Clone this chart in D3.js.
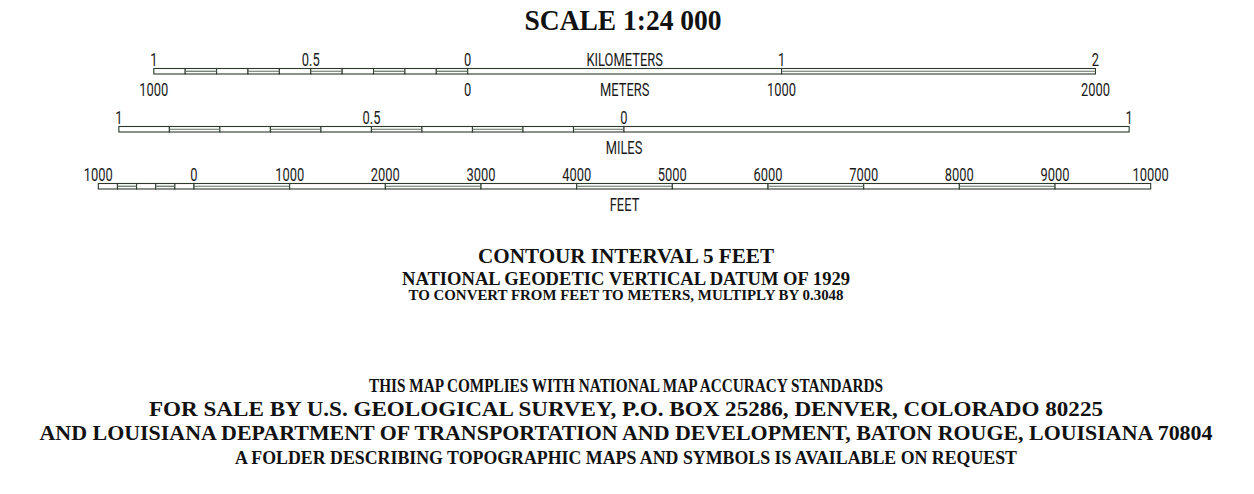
<!DOCTYPE html>
<html><head><meta charset="utf-8">
<script src="https://cdn.jsdelivr.net/npm/d3@7/dist/d3.min.js"></script>
<style>
html,body{margin:0;padding:0;background:#fff;}
svg{display:block;}
.lbl{font-family:Roboto,"Liberation Sans",sans-serif;font-size:19px;fill:#1a1a1a;}
.note{font-family:"Liberation Serif","DejaVu Serif",serif;font-weight:bold;fill:#111;}
</style></head>
<body><svg id="c" width="1254" height="494"></svg>
<script>
// ---- data ----
const title = "SCALE 1:24 000";
// kilometre bar (km)
const kmBreaks = [-1,-0.9,-0.8,-0.7,-0.6,-0.5,-0.4,-0.3,-0.2,-0.1,0,1,2];
const kmStyles = ["w","d","w","d","w","d","w","d","w","d","w","d"];
const kmTopLabels = [[-1,"1"],[-0.5,"0.5"],[0,"0"],[0.5,"KILOMETERS"],[1,"1"],[2,"2"]];
const mBottomLabels = [[-1,"1000"],[0,"0"],[0.5,"METERS"],[1,"1000"],[2,"2000"]];
// mile bar (miles)
const miBreaks = [-1,-0.9,-0.8,-0.7,-0.6,-0.5,-0.4,-0.3,-0.2,-0.1,0,1];
const miStyles = ["w","d","w","d","w","d","w","d","w","d","w"];
const miTopLabels = [[-1,"1"],[-0.5,"0.5"],[0,"0"],[1,"1"]];
const miBottomLabels = [[0,"MILES"]];
// feet bar (feet)
const ftBreaks = [-1000,-800,-600,-400,-200,0,1000,2000,3000,4000,5000,6000,7000,8000,9000,10000];
const ftStyles = ["w","d","w","d","w","d","w","d","w","d","w","d","w","d","w"];
const ftTopLabels = [[-1000,"1000"],[0,"0"],[1000,"1000"],[2000,"2000"],[3000,"3000"],[4000,"4000"],[5000,"5000"],[6000,"6000"],[7000,"7000"],[8000,"8000"],[9000,"9000"],[10000,"10000"]];
const ftBottomLabels = [[4500,"FEET"]];
// notes
const notesTop = ["CONTOUR INTERVAL 5 FEET","NATIONAL GEODETIC VERTICAL DATUM OF 1929","TO CONVERT FROM FEET TO METERS, MULTIPLY BY 0.3048"];
const notesBottom = ["THIS MAP COMPLIES WITH NATIONAL MAP ACCURACY STANDARDS","FOR SALE BY U.S. GEOLOGICAL SURVEY, P.O. BOX 25286, DENVER, COLORADO 80225","AND LOUISIANA DEPARTMENT OF TRANSPORTATION AND DEVELOPMENT, BATON ROUGE, LOUISIANA 70804","A FOLDER DESCRIBING TOPOGRAPHIC MAPS AND SYMBOLS IS AVAILABLE ON REQUEST"];

// ---- layout ----
const svg = d3.select("#c");
const pxPerFt = 0.09567;
const ftPerKm = 3280.84, ftPerMi = 5280;
const xKm = d3.scaleLinear().domain([0,1]).range([467.7, 467.7 + ftPerKm*pxPerFt]);
const xMi = d3.scaleLinear().domain([0,1]).range([624, 624 + ftPerMi*pxPerFt]);
const xFt = d3.scaleLinear().domain([0,1000]).range([194, 194 + 1000*pxPerFt]);

function bar(x, breaks, styles, y, h){
  const g = svg.append("g");
  const segs = d3.range(breaks.length-1).map(i=>({a:breaks[i],b:breaks[i+1],s:styles[i]}));
  g.selectAll("rect").data(segs).join("rect")
    .attr("x", d=>x(d.a)).attr("y", y).attr("width", d=>x(d.b)-x(d.a)).attr("height", h)
    .attr("fill","#fff").attr("stroke","#2c3a2c").attr("stroke-width",1.1);
  g.selectAll("line.mid").data(segs.filter(d=>d.s==="d")).join("line").attr("class","mid")
    .attr("x1", d=>x(d.a)).attr("x2", d=>x(d.b)).attr("y1", y+h/2).attr("y2", y+h/2)
    .attr("stroke","#5f6f5f").attr("stroke-width",1.2);
}
function labels(x, list, yBase){
  svg.append("g").selectAll("text").data(list).join("text").attr("class","lbl")
    .attr("transform", d=>`translate(${x(d[0])},${yBase}) scale(0.68,1)`)
    .attr("text-anchor","middle").text(d=>d[1]);
}

bar(xKm, kmBreaks, kmStyles, 68.5, 5.5);
labels(xKm, kmTopLabels, 65.5);
labels(xKm, mBottomLabels, 95.5);

bar(xMi, miBreaks, miStyles, 126.5, 5.5);
labels(xMi, miTopLabels, 123.5);
labels(xMi, miBottomLabels, 153.5);

bar(xFt, ftBreaks, ftStyles, 183.5, 5.5);
labels(xFt, ftTopLabels, 180.5);
labels(xFt, ftBottomLabels, 210.5);

// title and notes
const cx = 626;
svg.append("text").attr("class","note").attr("x", 623).attr("y", 29.5)
  .attr("text-anchor","middle").attr("font-size",28.5)
  .attr("textLength",197).attr("lengthAdjust","spacingAndGlyphs").text(title);

const topY = [262.5, 285, 300], topSize = [21.5, 18.5, 15], topW = [296, 448, 435];
svg.append("g").selectAll("text").data(notesTop).join("text").attr("class","note")
  .attr("x", cx).attr("y",(d,i)=>topY[i]).attr("text-anchor","middle")
  .attr("font-size",(d,i)=>topSize[i]).attr("textLength",(d,i)=>topW[i])
  .attr("lengthAdjust","spacingAndGlyphs").text(d=>d);

const botY = [391.5, 415.5, 439.5, 463.5], botSize = [19.5, 22, 22, 18.5], botW = [514, 954, 1173, 782];
svg.append("g").selectAll("text").data(notesBottom).join("text").attr("class","note")
  .attr("x", cx).attr("y",(d,i)=>botY[i]).attr("text-anchor","middle")
  .attr("font-size",(d,i)=>botSize[i]).attr("textLength",(d,i)=>botW[i])
  .attr("lengthAdjust","spacingAndGlyphs").text(d=>d);
</script></body></html>
